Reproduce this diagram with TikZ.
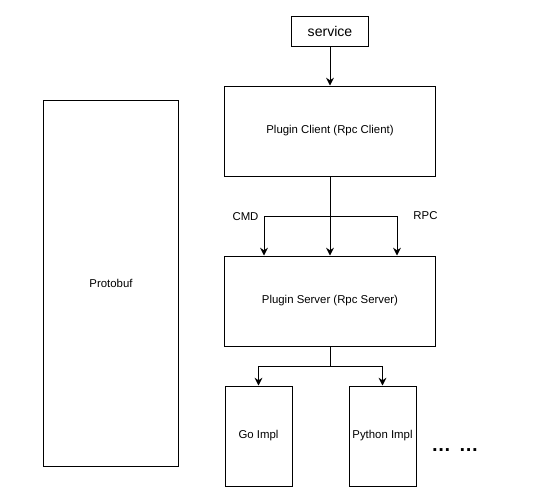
\documentclass[tikz,border=0pt]{standalone}
\usepackage{fontspec}
\setmainfont{Liberation Sans}
\usepackage{tikz}
\usetikzlibrary{arrows.meta,positioning}
\tikzstyle{box} = [draw, line width=0.7pt, inner sep=0pt, font=\fontsize{8.1}{9.7}\selectfont]
\tikzstyle{arrow} = [line width=0.7pt,-{Stealth[length=5.5pt,width=5.5pt]}]
\tikzstyle{lbl} = [font=\fontsize{8.1}{9.7}\selectfont]

\begin{document}
\begin{tikzpicture}[x=0.025cm,y=-0.025cm]
    \useasboundingbox (0,0) rectangle (548,502);
    \node[box, minimum width=1.9cm, minimum height=0.75cm, font=\fontsize{10}{12}\selectfont] (service) at (330,31) {service};
    \node[box, minimum width=5.25cm, minimum height=2.25cm] (client) at (330,131) {Plugin Client (Rpc Client)};
    \node[box, minimum width=5.25cm, minimum height=2.25cm] (server) at (330,301) {Plugin Server (Rpc Server)};
    \node[box, minimum width=3.35cm, minimum height=9.125cm] (protobuf) at (111,283.5) {Protobuf};
    \node[box, minimum width=1.675cm, minimum height=2.5cm] (goimpl) at (258.5,436) {Go Impl};
    \node[box, minimum width=1.675cm, minimum height=2.5cm] (pyimpl) at (382.5,436) {Python Impl};
    \node[font=\fontsize{14}{16}\selectfont\bfseries, inner sep=0pt] (more) at (455,450) {…\hspace{5.5pt}…};

    \draw[arrow] (service) -- (client);
    \draw[arrow] (client) -- (server);
    \coordinate (cmd) at (264,216);
    \coordinate (rpc) at (397,216);
    \draw[arrow] (client.south |- cmd) -- (cmd) -- (cmd |- server.north);
    \draw[arrow] (client.south |- rpc) -- (rpc) -- (rpc |- server.north);
    \node[lbl] (cmdlbl) at (245.5,217) {CMD};
    \node[lbl] (rpclbl) at (425.5,216) {RPC};

    \coordinate (split) at (330,366);
    \draw[arrow] (server) -- (split) -| (goimpl);
    \draw[arrow] (split) -| (pyimpl);
\end{tikzpicture}
\end{document}
